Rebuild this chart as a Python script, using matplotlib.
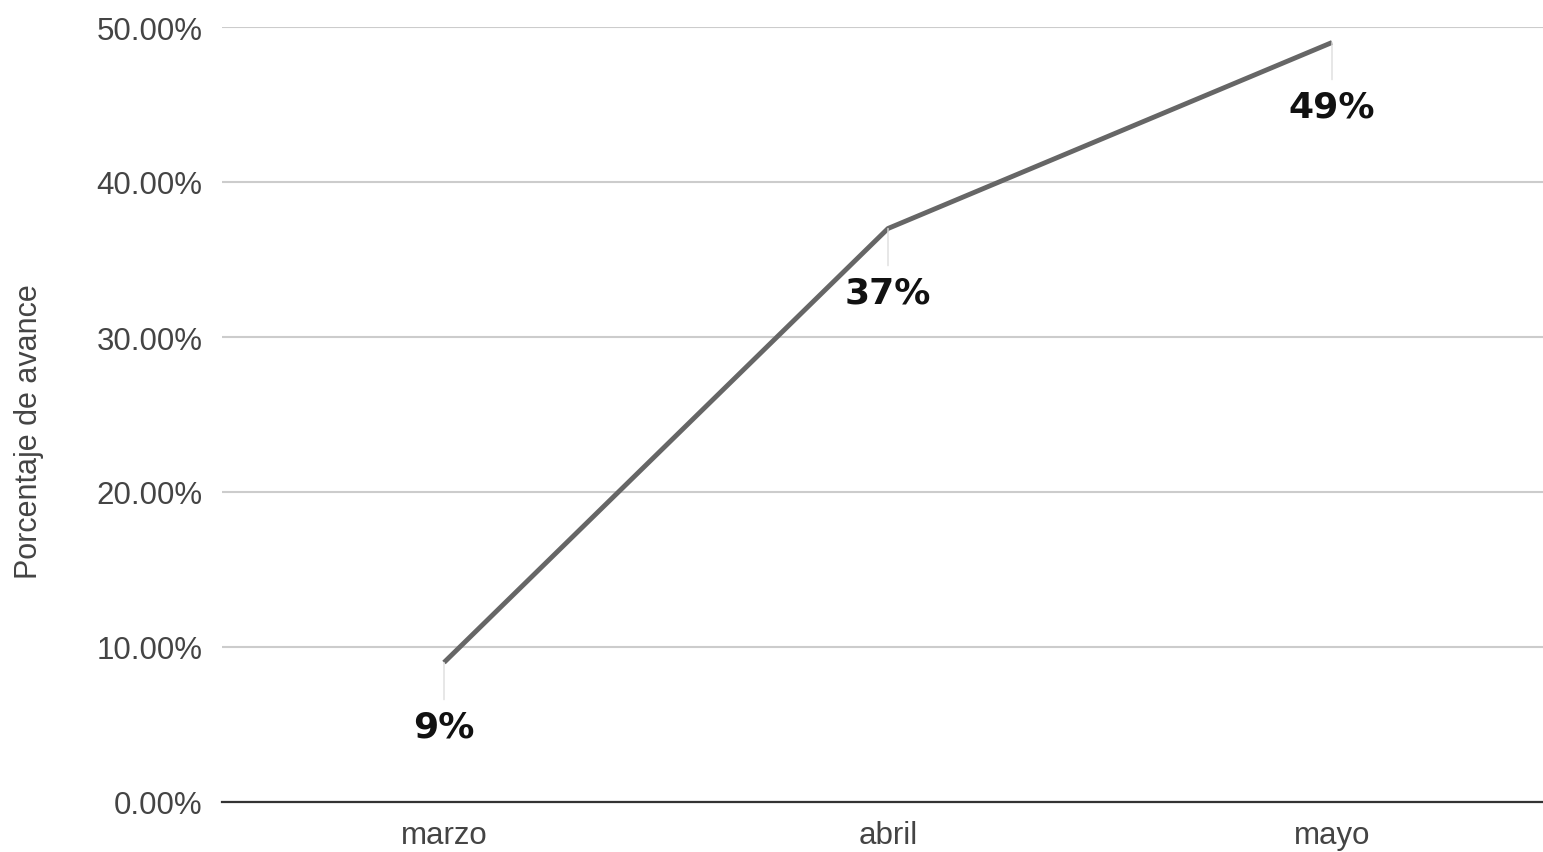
import matplotlib.pyplot as plt
from matplotlib.ticker import FuncFormatter

# datos
meses = ['marzo', 'abril', 'mayo']
avance = [9, 37, 49]
etiquetas = ['9%', '37%', '49%']
yticks = [0, 10, 20, 30, 40, 50]

fig = plt.figure(figsize=(15.43, 8.53), dpi=100)
ax = fig.add_axes([222/1543, 50/853, 1332/1543, 775/853])

x = list(range(len(meses)))
ax.plot(x, avance, color='#666666', lw=3.5, solid_capstyle='butt', zorder=3)

# etiquetas de datos con linea guia
for xi, yi, lab in zip(x, avance, etiquetas):
    ax.annotate(lab, xy=(xi, yi), xytext=(0, -46), textcoords='offset points',
                ha='center', va='center', fontsize=26, fontweight='bold',
                family='DejaVu Sans', color='#111111',
                arrowprops=dict(arrowstyle='-', color='#dddddd', lw=1,
                                shrinkA=5, shrinkB=0))

ax.set_xlim(-0.5, 2.5)
ax.set_ylim(0, 50)
ax.set_yticks(yticks)
ax.yaxis.set_major_formatter(FuncFormatter(lambda v, p: '{:.2f}%'.format(v)))
ax.set_xticks(x)
ax.set_xticklabels(meses)

ax.grid(axis='y', color='#cccccc', lw=1.5)
ax.set_axisbelow(True)
for s in ['top', 'right', 'left']:
    ax.spines[s].set_visible(False)
ax.spines['bottom'].set_color('#333333')
ax.spines['bottom'].set_linewidth(1.6)
ax.spines['bottom'].set_zorder(4)

ax.tick_params(length=0, labelsize=22.5, labelcolor='#444444')
ax.tick_params(axis='y', pad=14)
ax.tick_params(axis='x', pad=13)
for t in ax.get_xticklabels() + ax.get_yticklabels():
    t.set_family('Liberation Sans')

ax.set_ylabel('Porcentaje de avance', fontsize=22, color='#444444',
              family='Liberation Sans')
ax.yaxis.set_label_coords(-178/1332, 0.479)

fig.savefig('out.png', dpi=100)
